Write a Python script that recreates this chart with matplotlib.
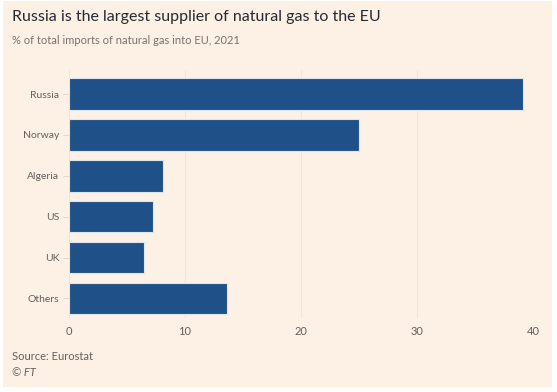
import matplotlib
matplotlib.use('Agg')
import matplotlib.pyplot as plt
import matplotlib.patches as patches

countries = ['Russia', 'Norway', 'Algeria', 'US', 'UK', 'Others']
shares = [39.1, 25.0, 8.1, 7.2, 6.5, 13.6]
xticks = [0, 10, 20, 30, 40]

BG = '#FDF0E5'
BAR = '#1F5188'
TXT = '#66605C'
GRID = '#F0E5DB'

plt.rcParams['font.family'] = ['Lato', 'DejaVu Sans']

W, H = 557, 392
fig = plt.figure(figsize=(W / 100, H / 100), dpi=100)
fig.patch.set_facecolor('white')
fig.patches.append(patches.Rectangle((3 / W, 1 - 387 / H), 549 / W, 386 / H,
                                     transform=fig.transFigure,
                                     facecolor=BG, edgecolor='none', zorder=-1))

ax = fig.add_axes([69 / W, 1 - 318 / H, 464 / W, 248 / H])
ax.set_facecolor('none')
ypos = range(len(countries))
ax.barh(ypos, shares, height=0.77, color=BAR, edgecolor='#DDE6F0',
        linewidth=0.8, zorder=3)
ax.set_xlim(0, 40)
ax.set_ylim(5.48, -0.59)
ax.set_yticks(list(ypos))
ax.set_yticklabels(countries)
ax.set_xticks(xticks)
ax.grid(axis='x', color=GRID, linewidth=0.8, zorder=0)
for s in ax.spines.values():
    s.set_visible(False)
ax.tick_params(axis='y', length=4, width=0.6, color='#DCD2C9',
               labelsize=7.5, labelcolor=TXT, pad=3)
ax.tick_params(axis='x', length=0, labelsize=8, labelcolor=TXT, pad=6)

fig.text(12 / W, 1 - 17 / H, 'Russia is the largest supplier of natural gas to the EU',
         fontsize=11.5, color='#262A33', va='center', ha='left')
fig.text(12 / W, 1 - 40 / H, '% of total imports of natural gas into EU, 2021',
         fontsize=8, color='#7A736D', va='center', ha='left')
fig.text(12 / W, 1 - 357 / H, 'Source: Eurostat',
         fontsize=8, color=TXT, va='center', ha='left')
fig.text(12 / W, 1 - 372 / H, '© FT', fontsize=8, color=TXT,
         style='italic', va='center', ha='left')

fig.savefig('out.png', dpi=100, facecolor=fig.get_facecolor())
plt.close(fig)
